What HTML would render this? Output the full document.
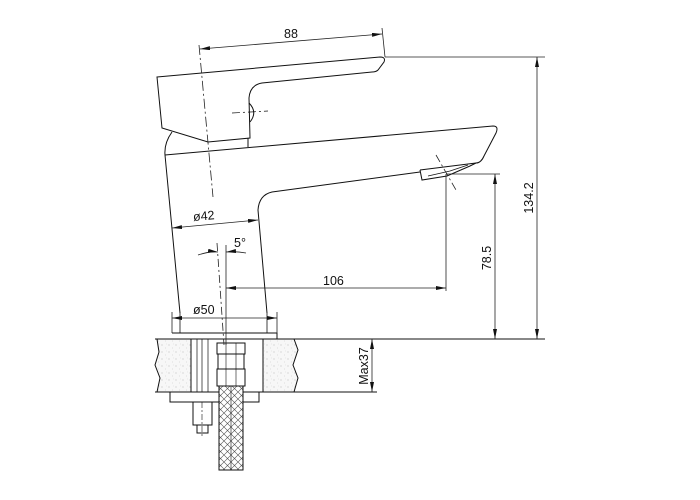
<!DOCTYPE html>
<html><head><meta charset="utf-8"><style>
html,body{margin:0;padding:0;background:#fff;}
svg{display:block;}
text{font-family:"Liberation Sans",sans-serif;font-size:12.5px;fill:#111;}
</style></head><body>
<svg width="700" height="500" viewBox="0 0 700 500" xmlns="http://www.w3.org/2000/svg">
<defs>
<pattern id="st" width="7" height="7" patternUnits="userSpaceOnUse">
<rect width="7" height="7" fill="#f7f7f7"/>
<circle cx="1" cy="2" r="0.5" fill="#aaa"/><circle cx="4.5" cy="5" r="0.4" fill="#bbb"/><circle cx="5.5" cy="1" r="0.35" fill="#ccc"/>
</pattern>
<pattern id="br" width="7" height="7" patternUnits="userSpaceOnUse">
<rect width="7" height="7" fill="#fff"/>
<path d="M0 0 L3.5 3.5 L0 7 M7 0 L3.5 3.5 L7 7" stroke="#555" stroke-width="0.6" fill="none"/>
</pattern>
<marker id="a" viewBox="0 0 10 4" refX="10" refY="2" markerWidth="10" markerHeight="4" orient="auto-start-reverse" markerUnits="userSpaceOnUse"><path d="M0 0 L10 2 L0 4z" fill="#111"/></marker>
</defs>
<g fill="none" stroke="#111" stroke-width="1">
<path d="M157 77 L380 57 Q386 57 384 62 L378 70 Q376 72 372 72 L262 83 Q250 85 249 98 L250 138 L208 142 L162 128 Z"/>
<path d="M248 138 L248 147"/>
<path d="M249 103 Q258 112 250 122"/>
<path d="M232 113 L268 111" stroke-dasharray="8 3 2 3" stroke-width="0.7"/>
<path d="M165 155 L493 126 Q499 126 496 133 L484 156 Q481 163 476 163 L420 170"/>
<path d="M420 170 L422 180 L447 176 L470 166 L476 163"/>
<path d="M428 176 L450 171 L468 165" stroke-width="0.7"/>
<path d="M420 172 L272 192 Q259 195 258 210 L267 313"/>
<path d="M172 132 Q164 143 165 155 L180 313"/>
<path d="M172 333 L277 333 L277 339 L172 339"/>
<path d="M180 313 L180 333 M267 313 L267 333" stroke-width="0.8"/>
<path d="M157 339 L191 339 L191 392 L157 392 L160 378 L155 365 L159 352 Z" fill="url(#st)"/>
<path d="M263 339 L294 339 L298 350 L293 365 L298 378 L294 392 L263 392 Z" fill="url(#st)"/>
<path d="M155 339 L545 339"/>
<path d="M155 392 L377 392"/>
<path d="M197 339 L197 392 M208 339 L208 392 M202 339 L202 392" stroke-width="0.7"/>
<path d="M217 343 L245 343 L245 354 L217 354 Z M218 354 L244 354 L244 369 L218 369 Z M217 369 L245 369 L245 386 L217 386 Z"/>
<path d="M226 343 L226 386 M236 343 L236 386" stroke-width="0.6"/>
<path d="M170 392 L259 392 L259 402 L170 402 Z"/>
<path d="M193 402 L212 402 L212 425 L193 425 Z M197 425 L208 425 L208 433 L197 433 Z"/>
<path d="M202 402 L202 438" stroke-dasharray="6 2 2 2" stroke-width="0.6"/>
<rect x="219" y="386" width="24" height="84" fill="url(#br)"/>
<path d="M231 386 L231 470" stroke-width="0.6"/>
</g>
<g fill="none" stroke="#222" stroke-width="0.8">
<path d="M199 45 L213 197" stroke-dasharray="10 3 2 3"/>
<path d="M436 155 L456 190" stroke-dasharray="8 3 2 3"/>
<path d="M217 243 L224 345" stroke-dasharray="8 3 2 3"/>
<path d="M226 245 L226 345"/>
<path d="M200 49 L382 34" marker-start="url(#a)" marker-end="url(#a)"/>
<path d="M382 28 L385 57"/>
<path d="M385 57 L545 57"/>
<path d="M537 57 L537 339" marker-start="url(#a)" marker-end="url(#a)"/>
<path d="M446 174 L500 174"/>
<path d="M495 174 L495 339" marker-start="url(#a)" marker-end="url(#a)"/>
<path d="M446 174 L446 291"/>
<path d="M226 288 L446 288" marker-start="url(#a)" marker-end="url(#a)"/>
<path d="M172 228 L258 220" marker-start="url(#a)" marker-end="url(#a)"/>
<path d="M172 318 L277 318" marker-start="url(#a)" marker-end="url(#a)"/>
<path d="M172 312 L172 333 M277 312 L277 333"/>
<path d="M198 255 Q210 251 218 252" marker-end="url(#a)"/>
<path d="M226 252 Q236 251 246 253" marker-start="url(#a)"/>
<path d="M372 339 L372 392" marker-start="url(#a)" marker-end="url(#a)"/>
</g>
<text x="284" y="38">88</text>
<text x="193" y="220" transform="rotate(-5 205 216)">ø42</text>
<text x="193" y="314">ø50</text>
<text x="234" y="247">5°</text>
<text x="323" y="285">106</text>
<text transform="translate(533 198) rotate(-90)" text-anchor="middle">134.2</text>
<text transform="translate(491 258) rotate(-90)" text-anchor="middle">78.5</text>
<text transform="translate(368 366) rotate(-90)" text-anchor="middle">Max37</text>
</svg>
</body></html>
